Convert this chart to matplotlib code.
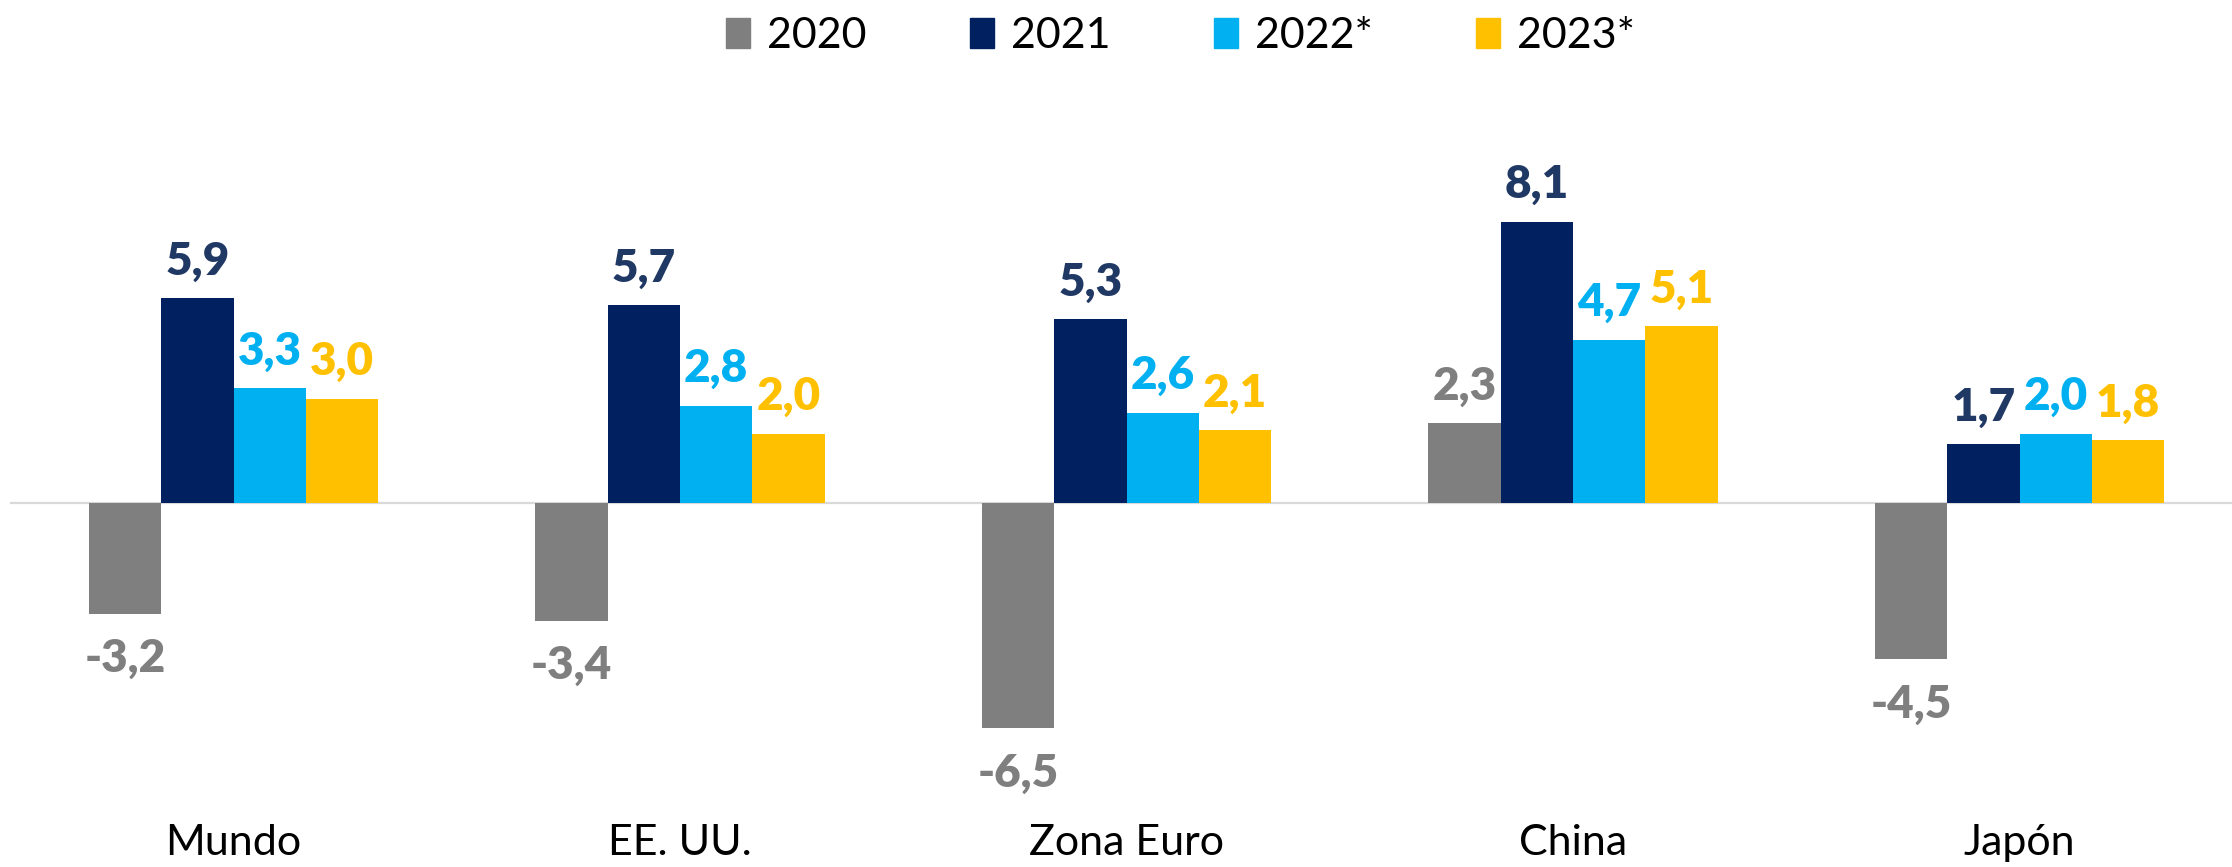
import numpy as np
import matplotlib.pyplot as plt
from matplotlib.patches import Patch

plt.rcParams['font.family'] = ['Lato', 'DejaVu Sans']

# dados
paises = ['Mundo', 'EE. UU.', 'Zona Euro', 'China', 'Japón']
anos = ['2020', '2021', '2022*', '2023*']
v2020 = [-3.2, -3.4, -6.5, 2.3, -4.5]
v2021 = [5.9, 5.7, 5.3, 8.1, 1.7]
v2022 = [3.3, 2.8, 2.6, 4.7, 2.0]
v2023 = [3.0, 2.0, 2.1, 5.1, 1.8]
series = [v2020, v2021, v2022, v2023]

cores = ['#7F7F7F', '#002060', '#00B0F0', '#FFC000']
cores_txt = ['#7F7F7F', '#203864', '#00B0F0', '#FFC000']

W, H = 2232, 867
fig = plt.figure(figsize=(W / 100, H / 100), dpi=100)
ax = fig.add_axes([10.25 / W, 1 - 803 / H, (W - 10.25) / W, (803 - 80) / H])

x = np.arange(len(paises))
w = 0.162
for i, vals in enumerate(series):
    pos = x + (i - 1.5) * w
    ax.bar(pos, vals, w, color=cores[i], label=anos[i], zorder=2)
    for xp, v in zip(pos, vals):
        dy = 17 if v >= 0 else -42
        ax.annotate(f'{v:.1f}'.replace('.', ','), (xp, v), xytext=(0, dy),
                    textcoords='offset points', ha='center', va='baseline',
                    fontsize=33, fontweight='heavy', color=cores_txt[i])

ax.axhline(0, color='#D9D9D9', lw=1.6, zorder=1)
ax.set_xlim(-0.5, (W - 233.5) / 446.5)
ax.set_ylim(-8.65, 12.19)
ax.set_xticks(x, paises, fontsize=31)
ax.tick_params(axis='x', length=0, pad=15)
ax.set_yticks([])
for s in ax.spines.values():
    s.set_visible(False)

handles = [Patch(color=c, label=a) for c, a in zip(cores, anos)]
fig.legend(handles=handles, loc='center', bbox_to_anchor=(0.529, 1 - 36 / H),
           ncol=4, frameon=False, fontsize=31, handlelength=0.55,
           handleheight=0.7, handletextpad=0.4, columnspacing=2.4)

plt.savefig('out.png', dpi=100)
